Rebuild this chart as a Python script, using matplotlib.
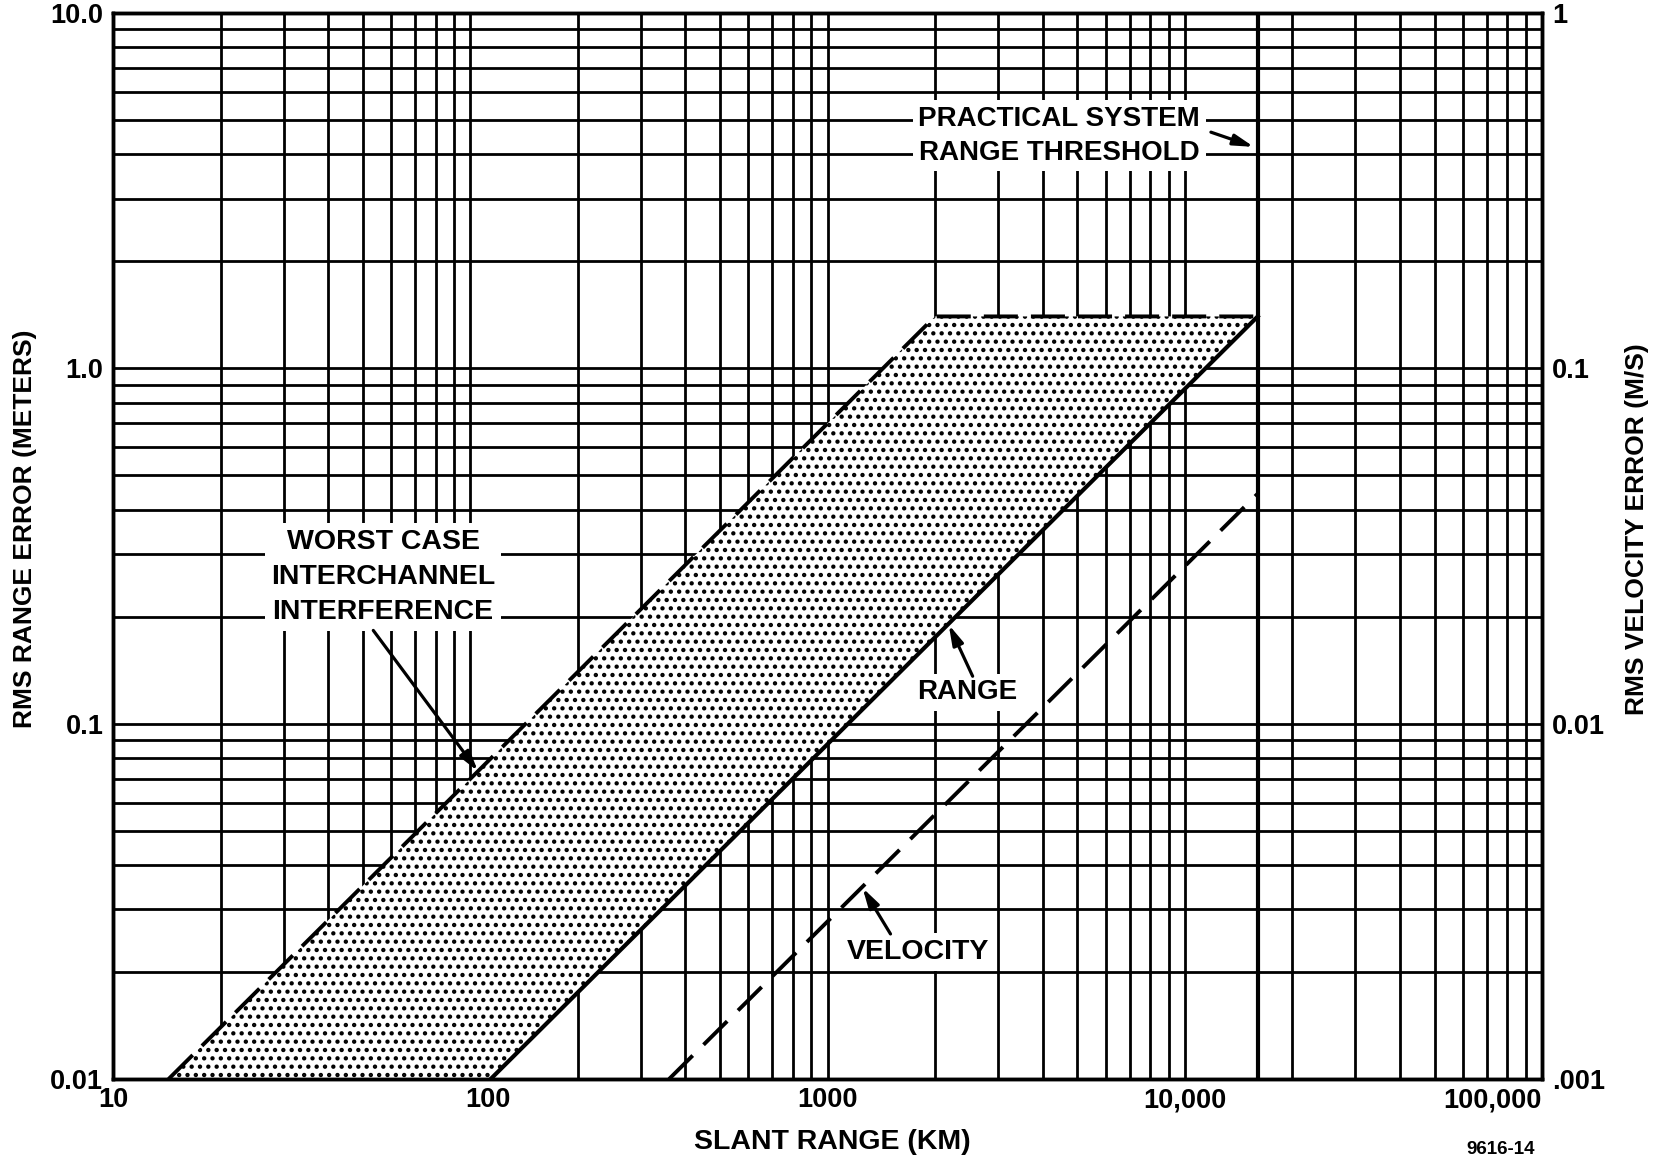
import matplotlib
matplotlib.use('Agg')
import matplotlib.pyplot as plt
from matplotlib.ticker import NullFormatter
from matplotlib.transforms import ScaledTranslation

plt.rcParams['font.family'] = ['Liberation Sans', 'DejaVu Sans']
plt.rcParams['font.weight'] = 'bold'
plt.rcParams['axes.labelweight'] = 'bold'
plt.rcParams['hatch.linewidth'] = 1.9
plt.rcParams['lines.scale_dashes'] = False

# slant range (km) vs rms error
WORST_KM = [14.3, 2000, 16000]          # worst case interchannel interference
WORST_ERR_M = [0.01, 1.4, 1.4]
RANGE_KM = [114, 16000]
RANGE_ERR_M = [0.01, 1.4]
VEL_KM = [360, 16000]
VEL_ERR_MS = [0.001, 0.0444]
THRESHOLD_KM = 16000

X_TICKS = [10, 100, 1000, 10000, 100000]
X_LABELS = ['10', '100', '1000', '10,000', '100,000']
Y_TICKS = [0.01, 0.1, 1.0, 10.0]
Y_LABELS = ['0.01', '0.1', '1.0', '10.0']
Y2_TICKS = [0.001, 0.01, 0.1, 1]
Y2_LABELS = ['.001', '0.01', '0.1', '1']

fig = plt.figure(figsize=(16.58, 11.61), dpi=100)
ax = fig.add_axes([0.0682, 0.0706, 0.8619, 0.9182])
ax.set_xscale('log')
ax.set_yscale('log')
ax.set_xlim(10, 1e5)
ax.set_ylim(0.01, 10)
ax.set_axisbelow(True)
ax.grid(True, which='both', color='black', lw=2.0)
ax.set_xticks(X_TICKS, X_LABELS)
ax.set_yticks(Y_TICKS, Y_LABELS)
ax.xaxis.set_minor_formatter(NullFormatter())
ax.yaxis.set_minor_formatter(NullFormatter())
ax.tick_params(which='both', length=0)
ax.tick_params(axis='x', labelsize=19.5, pad=6)
ax.tick_params(axis='y', labelsize=19.5, pad=7)
for sp in ax.spines.values():
    sp.set_linewidth(2.5)

ax2 = ax.twinx()
ax2.set_yscale('log')
ax2.set_ylim(0.001, 1)
ax2.set_yticks(Y2_TICKS, Y2_LABELS)
ax2.yaxis.set_minor_formatter(NullFormatter())
ax2.tick_params(which='both', length=0, labelsize=19.5, pad=7)
for sp in ax2.spines.values():
    sp.set_linewidth(2.5)

# shaded band between worst case and range curves
ax.fill(WORST_KM + RANGE_KM[::-1], WORST_ERR_M + RANGE_ERR_M[::-1],
        facecolor='white', edgecolor='black', hatch='..', lw=0, zorder=1)
ax.plot(RANGE_KM, RANGE_ERR_M, color='black', lw=3.0, zorder=3)
ax.plot(WORST_KM, WORST_ERR_M, color='black', lw=2.8, dashes=(24.5, 9.4),
        zorder=3)
ax.axvline(THRESHOLD_KM, color='black', lw=3.0, zorder=3)
ax2.plot(VEL_KM, VEL_ERR_MS, color='black', lw=2.8, dashes=(24, 11),
         zorder=3)

box = dict(boxstyle='square,pad=0.2', facecolor='white', edgecolor='none')
arrow = dict(arrowstyle='-|>,head_length=1.2,head_width=0.33', color='black',
             lw=2.3, shrinkA=0, shrinkB=0)

ax.text(0.662, 0.885, 'PRACTICAL SYSTEM\nRANGE THRESHOLD',
        transform=ax.transAxes, ha='center', va='center', fontsize=20,
        linespacing=1.4, bbox=box, zorder=4)
ax.annotate('', xy=(15600, 4.2), xytext=(11830, 4.62), arrowprops=arrow,
            zorder=5)

ax.text(0.189, 0.471, 'WORST CASE\nINTERCHANNEL\nINTERFERENCE',
        transform=ax.transAxes, ha='center', va='center', fontsize=20.5,
        linespacing=1.45, bbox=box, zorder=4)
ax.annotate('', xy=(105, 0.0735), xytext=(53.5, 0.183), arrowprops=arrow,
            zorder=5)

ax.text(0.598, 0.363, 'RANGE', transform=ax.transAxes, ha='center',
        va='center', fontsize=20, bbox=box, zorder=4)
ax.annotate('', xy=(2183, 0.19), xytext=(2547, 0.136), arrowprops=arrow,
            zorder=5)

ax2.text(0.563, 0.119, 'VELOCITY', transform=ax2.transAxes, ha='center',
         va='center', fontsize=20.5, bbox=box, zorder=4)
ax2.annotate('', xy=(1253, 0.00345), xytext=(1500, 0.00256),
             arrowprops=arrow, zorder=5)

ax.set_xlabel('SLANT RANGE (KM)', fontsize=20.5)
ax.xaxis.set_label_coords(0.503, -0.047)
ax.set_ylabel('RMS RANGE ERROR (METERS)', fontsize=19)
ax.yaxis.set_label_coords(-0.053, 0.516)
ax2.set_ylabel('RMS VELOCITY ERROR (M/S)', fontsize=19)
ax2.yaxis.set_label_coords(1.058, 0.516)

# nudge the end labels of the x axis
ticks = ax.xaxis.get_major_ticks()
ticks[1].label1.set_transform(ticks[1].label1.get_transform() +
                              ScaledTranslation(0.18, 0, fig.dpi_scale_trans))
ticks[-1].label1.set_horizontalalignment('right')

fig.text(0.905, 0.0095, '9616-14', ha='center', va='center', fontsize=13.5)

fig.savefig('out.png', dpi=100)
